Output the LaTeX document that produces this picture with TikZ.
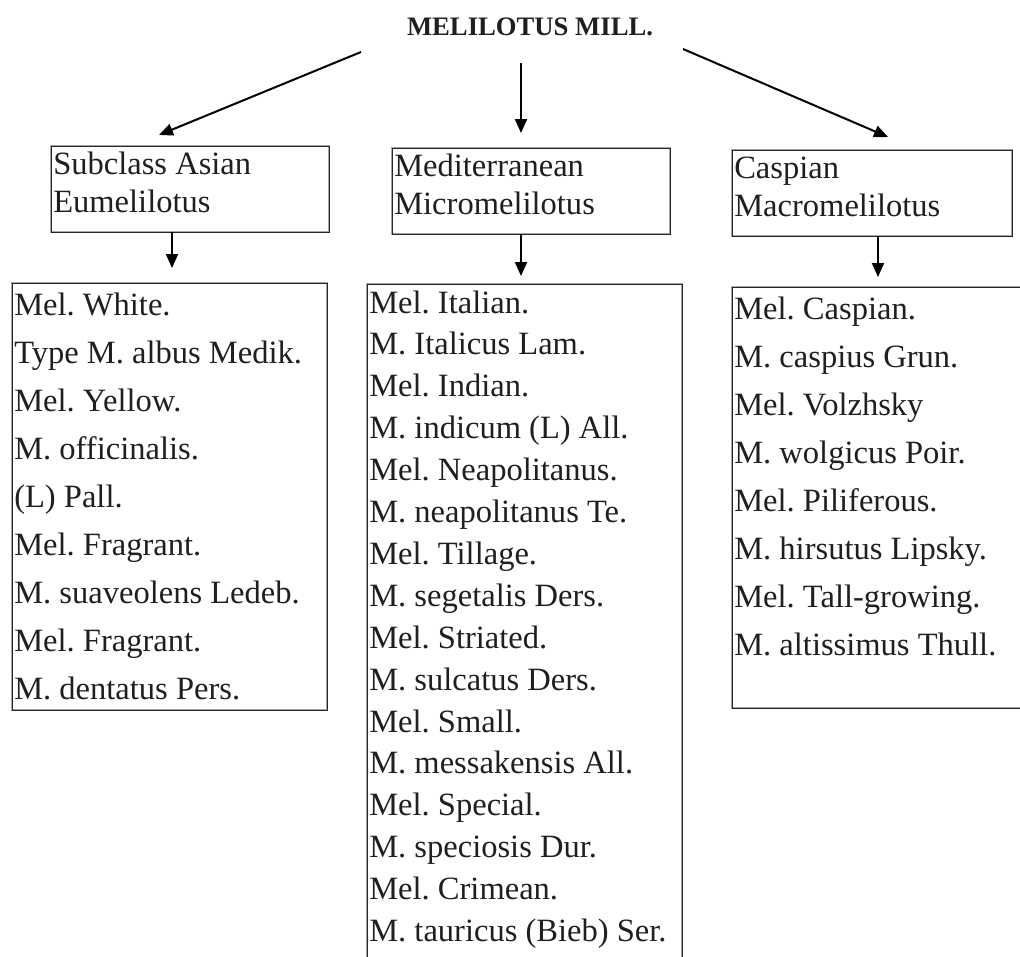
\documentclass[tikz,border=0pt]{standalone}
\usepackage{fontspec}
\setmainfont{Liberation Serif}
\frenchspacing
\usetikzlibrary{arrows.meta,fit}

\tikzset{
  frame/.style={draw=gray!70, line width=0.5pt, double=black!85, double distance=0.5pt, inner sep=0pt},
  entry/.style={anchor=base west, inner sep=0pt, text=black!88, font=\fontsize{24.4}{29}\selectfont},
  link/.style={line width=1.5pt, -{Triangle[length=10.5pt,width=9pt]}}
}

\begin{document}
\begin{tikzpicture}[x=0.75pt,y=-0.75pt]
\clip (0,0) rectangle (1020,956);
\node[inner sep=0pt, text=black!88, font=\bfseries\fontsize{20}{24}\selectfont] (genus) at (530,27) {MELILOTUS MILL.};

% the three sections
\node[frame, fit={(51,146) (329,232)}] (asian) {};
\node[frame, fit={(392,148) (670,234)}] (medit) {};
\node[frame, fit={(732,150) (1012,236)}] (casp) {};
\node[entry] (asian1) at (53,174) {Subclass Asian};
\node[entry] (asian2) at (53,212) {Eumelilotus};
\node[entry] (medit1) at (394,176) {Mediterranean};
\node[entry] (medit2) at (394,214) {Micromelilotus};
\node[entry] (casp1) at (734,178) {Caspian};
\node[entry] (casp2) at (734,216) {Macromelilotus};

% species lists
\node[frame, fit={(12,283) (327,710)}] (listA) {};
\node[frame, fit={(367,284) (682,990)}] (listB) {};
\node[frame, fit={(732,287) (1040,708)}] (listC) {};

\foreach \t [count=\i from 0] in {Mel. White., Type M. albus Medik., Mel. Yellow., M. officinalis., (L) Pall., Mel. Fragrant., M. suaveolens Ledeb., Mel. Fragrant., M. dentatus Pers.}
  \node[entry] (a\i) at (14,315+48*\i) {\t};
\foreach \t [count=\i from 0] in {Mel. Italian., M. Italicus Lam., Mel. Indian., M. indicum (L) All., Mel. Neapolitanus., M. neapolitanus Te., Mel. Tillage., M. segetalis Ders., Mel. Striated., M. sulcatus Ders., Mel. Small., M. messakensis All., Mel. Special., M. speciosis Dur., Mel. Crimean., M. tauricus (Bieb) Ser.}
  \node[entry] (b\i) at (369,313+41.9*\i) {\t};
\foreach \t [count=\i from 0] in {Mel. Caspian., M. caspius Grun., Mel. Volzhsky, M. wolgicus Poir., Mel. Piliferous., M. hirsutus Lipsky., Mel. Tall-growing., M. altissimus Thull.}
  \node[entry] (c\i) at (734,319+48*\i) {\t};

% arrows
\coordinate (fromL) at (361,52);
\coordinate (toL) at (159,135);
\coordinate (fromM) at (521,63);
\coordinate (toM) at (521,133);
\coordinate (fromR) at (683,49);
\coordinate (toR) at (888,137);
\draw[link] (fromL) -- (toL);
\draw[link] (fromM) -- (toM);
\draw[link] (fromR) -- (toR);

\coordinate (inA) at (172,268);
\coordinate (inB) at (521,276);
\coordinate (inC) at (878,277);
\draw[link] (asian.south -| inA) -- (inA);
\draw[link] (medit.south -| inB) -- (inB);
\draw[link] (casp.south -| inC) -- (inC);
\end{tikzpicture}
\end{document}
